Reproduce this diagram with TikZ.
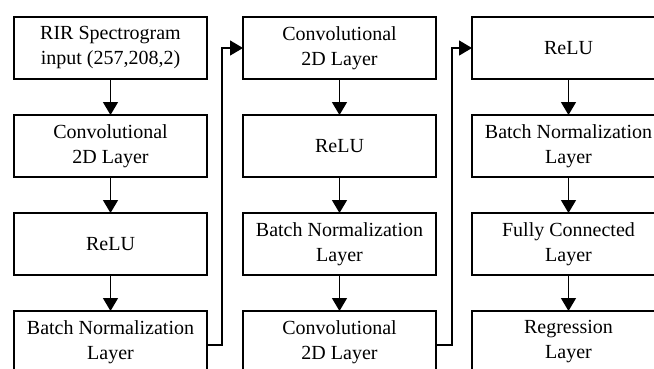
\documentclass[tikz,border=0pt]{standalone}
\usepackage{fontspec}
\setmainfont{Liberation Serif}
\usepackage{tikz}
\usetikzlibrary{arrows.meta,positioning}
\tikzstyle{layer} = [rectangle, minimum width=193pt, minimum height=62pt, text centered, align=center, draw=black, line width=1.4pt, inner sep=0pt, outer sep=0pt, font=\fontsize{20}{25}\selectfont]
\tikzstyle{arrow} = [line width=1.4pt,-{Triangle[length=13pt,width=15pt]},color=black]

\begin{document}
\begin{tikzpicture}[node distance=36pt]
% page frame, the lower row and the right column run off it
\clip (-110.5pt,48pt) rectangle ++(654pt,-368pt);
% first column
\node (in) [layer] {RIR Spectrogram\\input (257,208,2)};
\node (conva) [layer, below=of in] {Convolutional\\2D Layer};
\node (relua) [layer, below=of conva] {ReLU};
\node (bna) [layer, below=of relua] {Batch Normalization\\Layer};
% second column
\node (convb) [layer, right=of in] {Convolutional\\2D Layer};
\node (relub) [layer, below=of convb] {ReLU};
\node (bnb) [layer, below=of relub] {Batch Normalization\\Layer};
\node (convc) [layer, below=of bnb] {Convolutional\\2D Layer};
% third column
\node (reluc) [layer, right=of convb] {ReLU};
\node (bnc) [layer, below=of reluc] {Batch Normalization\\Layer};
\node (fc) [layer, below=of bnc] {Fully Connected\\Layer};
\node (reg) [layer, below=of fc] {Regression\\Layer};

\draw[arrow] (in) -- (conva);
\draw[arrow] (conva) -- (relua);
\draw[arrow] (relua) -- (bna);
\draw[arrow] ([yshift=-3pt]bna.east) -- ++(15pt,0) |- (convb.west);
\draw[arrow] (convb) -- (relub);
\draw[arrow] (relub) -- (bnb);
\draw[arrow] (bnb) -- (convc);
\draw[arrow] ([yshift=-3pt]convc.east) -- ++(16pt,0) |- (reluc.west);
\draw[arrow] (reluc) -- (bnc);
\draw[arrow] (bnc) -- (fc);
\draw[arrow] (fc) -- (reg);
\end{tikzpicture}
\end{document}
